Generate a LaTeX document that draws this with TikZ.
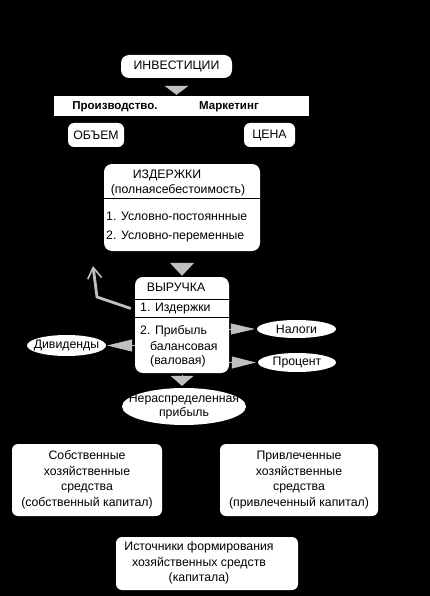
\documentclass[tikz,border=0pt]{standalone}
\usepackage{fontspec}
\setmainfont{Liberation Sans}
\usetikzlibrary{arrows.meta,shapes.geometric}
\definecolor{arrc}{RGB}{192,192,192}

\begin{document}
\begin{tikzpicture}[
  x=1pt, y=-1pt,
  font=\fontsize{12.3}{15.5}\selectfont,
  box/.style={fill=white, rounded corners=8pt, inner sep=0pt, align=center},
  oval/.style={ellipse, fill=white, inner sep=0pt},
  txt/.style={inner sep=0pt, anchor=west},
  ctr/.style={inner sep=0pt, align=center},
  rule/.style={draw=black, line width=#1},
  gtri/.style 2 args={draw=arrc, fill=arrc, line width=0.6pt,
            -{Triangle[length=#1, width=#2]}},
  backarr/.style={draw=arrc, line width=2.8pt,
            -{Straight Barb[length=11pt, width=14pt, line width=1.6pt]}},
]
\useasboundingbox (0,0) rectangle (430,596);
\fill[black] (0,0) rectangle (430,596);

% ---------------- top: investments ----------------
\node[box, minimum width=111pt, minimum height=23pt] (inv) at (176.5,66.5) {ИНВЕСТИЦИИ};
\node[fill=white, inner sep=0pt, minimum width=255pt, minimum height=20pt] (bar) at (181.5,106) {};
\node[ctr, font=\fontsize{11.5}{14}\selectfont\bfseries] (prod) at (115,107) {Производство.};
\node[ctr, font=\fontsize{11.5}{14}\selectfont\bfseries] (mark) at (229,107) {Маркетинг};
\node[box, rounded corners=6pt, minimum width=56pt, minimum height=24pt] (vol) at (96,135) {ОБЪЕМ};
\node[box, rounded corners=6pt, minimum width=51pt, minimum height=24pt] (price) at (269.5,135) {ЦЕНА};

\draw[gtri={9pt}{24pt}, shorten <=7.7pt, shorten >=1pt] (inv.south) -- (inv.south |- bar.north);

% ---------------- costs ----------------
\node[box, minimum width=156pt, minimum height=87pt] (izd) at (182,207.5) {};
\node[ctr] (izdt) at (167,175) {ИЗДЕРЖКИ};
\node[ctr] (izds) at (178,190) {(полнаясебестоимость)};
\draw[rule=1pt] (izd.west |- 0,198) -- (izd.east |- 0,198);
\node[txt] (izd1) at (106,216) {1. Условно-постояннные};
\node[txt] (izd2) at (106,236) {2. Условно-переменные};

% ---------------- revenue ----------------
\node[box, minimum width=94pt, minimum height=96pt] (vyr) at (182,325) {};
\node[ctr] (vyrt) at (176,287) {ВЫРУЧКА};
\draw[rule=1pt] (vyr.west |- 0,299) -- (vyr.east |- 0,299);
\node[txt] (vizd) at (140,308.5) {1. Издержки};
\draw[rule=1.5pt] (vyr.west |- 0,317.5) -- (vyr.east |- 0,317.5);
\node[txt] (vpr1) at (140,331) {2. Прибыль};
\node[txt] (vpr2) at (150,346) {балансовая};
\node[txt] (vpr3) at (150,361) {(валовая)};

\draw[gtri={13pt}{24pt}, shorten <=11.7pt, shorten >=1pt] (izd.south) -- (vyr.north);

% back to the costs
\coordinate (bend) at (97,297);
\coordinate (backtip) at (93,266);
\draw[backarr] ([xshift=-4pt]vyr.west |- vizd.west) -- (bend) -- (backtip);

% ---------------- distribution of profit ----------------
\node[oval, minimum width=79pt, minimum height=18pt, label={[ctr]center:Налоги}] (tax) at (296.5,329) {};
\node[oval, minimum width=78pt, minimum height=19pt, label={[ctr]center:Процент}] (perc) at (297,362.5) {};
\node[oval, minimum width=79pt, minimum height=21pt, label={[ctr]center:Дивиденды}] (div) at (66.5,345.5) {};
\node[oval, minimum width=124pt, minimum height=37pt,
      label={[ctr, align=center]center:Нераспределенная\\[-1pt]прибыль}] (ret) at (184,406.5) {};

\draw[gtri={24pt}{11pt}, shorten >=2pt] (vyr.east |- tax) -- (tax.west);
\draw[gtri={24pt}{12pt}, shorten >=2pt] (vyr.east |- perc) -- (perc.west);
\draw[gtri={25pt}{12pt}, shorten >=1pt] (vyr.west |- div) -- (div.east);
\draw[gtri={10pt}{23pt}, shorten <=2pt, shorten >=2pt] (vyr.south) -- (vyr.south |- ret.north);

% ---------------- bottom: sources of capital ----------------
\node[box, rounded corners=6pt, minimum width=150pt, minimum height=72pt] (own) at (87,480)
  {Собственные\\хозяйственные\\средства\\(собственный капитал)};
\node[box, rounded corners=6pt, minimum width=158pt, minimum height=72pt] (bor) at (299,480)
  {Привлеченные\\хозяйственные\\средства\\(привлеченный капитал)};
\node[box, rounded corners=6pt, minimum width=182pt, minimum height=53pt] (src) at (207,563.5) {};
\node[ctr] (srct) at (199,563) {Источники формирования\\хозяйственных средств\\(капитала)};

\end{tikzpicture}
\end{document}
